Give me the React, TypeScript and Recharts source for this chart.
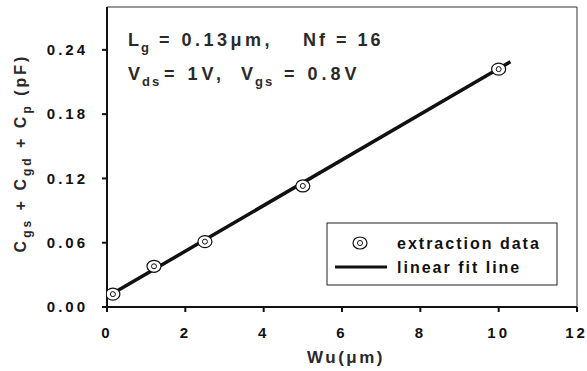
import React from 'react';
import {
    ComposedChart,
    Line,
    Scatter,
    XAxis,
    YAxis,
    ReferenceLine,
    Customized,
} from 'recharts';

// extraction data (Wu in um, capacitance in pF)
const widths = [0.15, 1.2, 2.5, 5, 10];
const caps = [0.012, 0.038, 0.061, 0.113, 0.222];

// linear fit endpoints
const fitWidths = [0, 10.3];
const fitCaps = [0.0095, 0.229];

const xTicks = [0, 2, 4, 6, 8, 10, 12];
const yTicks = [0, 0.06, 0.12, 0.18, 0.24];

const legendLabels = ['extraction data', 'linear fit line'];

const points = widths.map((w, i) => ({ w, c: caps[i] }));
const fitData = fitWidths.map((w, i) => ({ w, c: fitCaps[i] }));

const FONT = '"Liberation Sans", Arial, sans-serif';

const labelText = {
    fill: '#2a2a2a',
    fontFamily: FONT,
    fontWeight: 700,
} as const;

function RingDot(props: any) {
    const { cx, cy } = props;
    if (cx == null || cy == null) return null;
    return (
        <g>
            <ellipse cx={cx} cy={cy} rx={7} ry={6} fill="#fff" stroke="#111" strokeWidth={1.2} />
            <circle cx={cx} cy={cy} r={2.5} fill="#fff" stroke="#111" strokeWidth={1} />
        </g>
    );
}

function Annotations() {
    return (
        <g>
            {/* legend box */}
            <rect x={327} y={223} width={230} height={62} fill="#fff" stroke="#222" strokeWidth={1} />
            <RingDot cx={360} cy={243} />
            <line x1={335} y1={267} x2={387} y2={267} stroke="#111" strokeWidth={3} />
            <text x={397} y={249} fontSize={16} letterSpacing={2} fill="#111" fontFamily={FONT} fontWeight={700}>
                {legendLabels[0]}
            </text>
            <text x={397} y={273} fontSize={16} letterSpacing={2} fill="#111" fontFamily={FONT} fontWeight={700}>
                {legendLabels[1]}
            </text>

            <g fontSize={18} {...labelText}>
                <text x={128} y={46} letterSpacing={2}>
                    L<tspan dy={6} fontSize={13}>g</tspan>
                </text>
                <text x={159} y={46} letterSpacing={3.5}>= 0.13μm,</text>
                <text x={303} y={46} letterSpacing={3}>Nf = 16</text>
                <text x={128} y={80} letterSpacing={2}>
                    V<tspan dy={6} fontSize={13}>ds</tspan>
                </text>
                <text x={164} y={80} letterSpacing={4}>= 1V,</text>
                <text x={241} y={80} letterSpacing={2}>
                    V<tspan dy={6} fontSize={13}>gs</tspan>
                </text>
                <text x={284} y={80} letterSpacing={4}>= 0.8V</text>
            </g>
            <text x={346} y={363} fontSize={17} textAnchor="middle" letterSpacing={2.5} {...labelText}>
                Wu(μm)
            </text>
            <text
                transform="translate(26,153) rotate(-90)"
                fontSize={16}
                textAnchor="middle"
                letterSpacing={3}
                {...labelText}
            >
                C<tspan dy={5} fontSize={12}>gs</tspan>
                <tspan dy={-5}> + C</tspan>
                <tspan dy={5} fontSize={12}>gd</tspan>
                <tspan dy={-5}> + C</tspan>
                <tspan dy={5} fontSize={12}>p</tspan>
                <tspan dy={-5}> (pF)</tspan>
            </text>
        </g>
    );
}

export default function App() {
    const tickStyle = { fill: '#111', fontSize: 15, fontWeight: 700, fontFamily: FONT, letterSpacing: 3 };
    return (
        <div style={{ position: 'absolute', left: 0, top: 0, background: '#fff' }}>
            <ComposedChart width={587} height={371} margin={{ top: 7, right: 10, bottom: 34, left: 0 }}>
                <XAxis
                    type="number"
                    dataKey="w"
                    domain={[0, 12]}
                    ticks={xTicks}
                    allowDataOverflow
                    stroke="#111"
                    strokeWidth={2}
                    tickSize={5}
                    tickMargin={15}
                    tick={tickStyle}
                    height={30}
                />
                <YAxis
                    type="number"
                    domain={[0, 0.28]}
                    ticks={yTicks}
                    width={107}
                    allowDataOverflow
                    stroke="#111"
                    strokeWidth={2}
                    tickSize={5}
                    tickMargin={14}
                    tick={tickStyle}
                    tickFormatter={(v: number) => v.toFixed(2)}
                />
                <ReferenceLine y={0.28} stroke="#333" strokeWidth={1} />
                <ReferenceLine x={12} stroke="#333" strokeWidth={1} />
                <Line
                    data={fitData}
                    dataKey="c"
                    stroke="#111"
                    strokeWidth={3.5}
                    dot={false}
                    isAnimationActive={false}
                />
                <Scatter data={points} dataKey="c" shape={<RingDot />} isAnimationActive={false} />
                <Customized component={<Annotations />} />
            </ComposedChart>
        </div>
    );
}
